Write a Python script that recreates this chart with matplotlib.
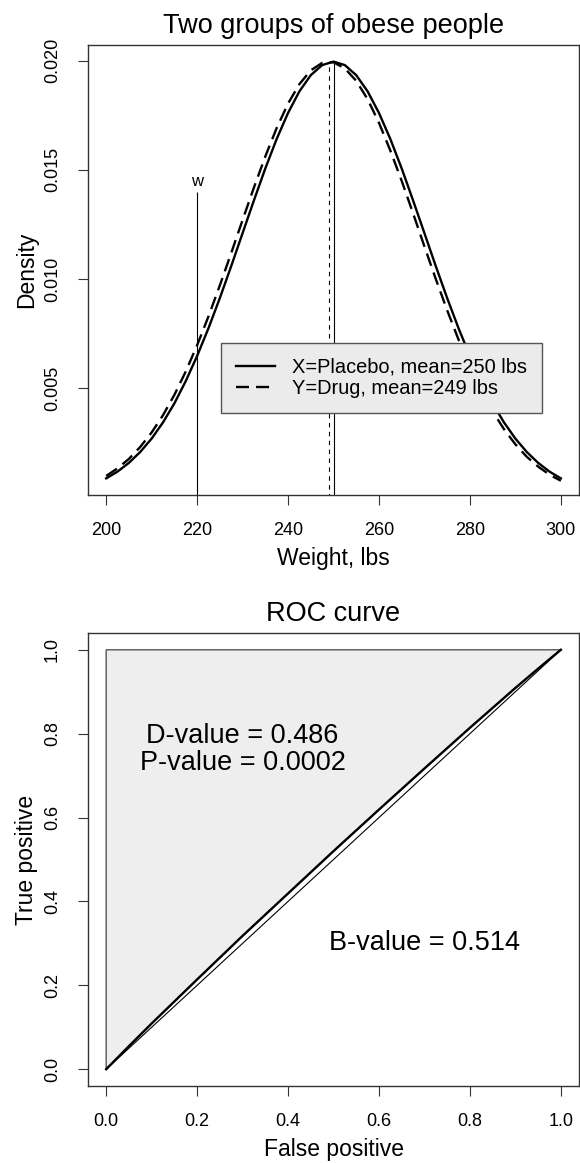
import matplotlib.pyplot as plt

plt.rcParams.update({'font.family': ['Liberation Sans', 'DejaVu Sans']})

# densities, every 2.5 lbs
weight = [200, 202.5, 205, 207.5, 210, 212.5, 215, 217.5, 220, 222.5, 225, 227.5,
          230, 232.5, 235, 237.5, 240, 242.5, 245, 247.5, 250, 252.5, 255, 257.5,
          260, 262.5, 265, 267.5, 270, 272.5, 275, 277.5, 280, 282.5, 285, 287.5,
          290, 292.5, 295, 297.5, 300]
placebo_dens = [0.00088, 0.00119, 0.00159, 0.00209, 0.00270, 0.00344, 0.00431, 0.00533,
                0.00648, 0.00775, 0.00913, 0.01059, 0.01210, 0.01360, 0.01506, 0.01641,
                0.01760, 0.01859, 0.01933, 0.01979, 0.01995, 0.01979, 0.01933, 0.01859,
                0.01760, 0.01641, 0.01506, 0.01360, 0.01210, 0.01059, 0.00913, 0.00775,
                0.00648, 0.00533, 0.00431, 0.00344, 0.00270, 0.00209, 0.00159, 0.00119,
                0.00088]
drug_dens = [0.00099, 0.00134, 0.00177, 0.00232, 0.00298, 0.00377, 0.00470, 0.00577,
             0.00697, 0.00829, 0.00971, 0.01119, 0.01270, 0.01419, 0.01561, 0.01691,
             0.01803, 0.01892, 0.01955, 0.01989, 0.01992, 0.01964, 0.01907, 0.01823,
             0.01715, 0.01588, 0.01449, 0.01301, 0.01149, 0.01000, 0.00857, 0.00723,
             0.00600, 0.00491, 0.00395, 0.00313, 0.00244, 0.00187, 0.00142, 0.00105,
             0.00077]
placebo_mean = 250
drug_mean = 249
w_cut = 220
w_height = 0.014
x_ticks = [200, 220, 240, 260, 280, 300]
y_ticks = [0.005, 0.010, 0.015, 0.020]
y_tick_labels = ['0.005', '0.010', '0.015', '0.020']

# ROC curve points
fpr = [0.0, 0.05, 0.1, 0.2, 0.3, 0.4, 0.5, 0.6, 0.7, 0.8, 0.9, 0.95, 1.0]
tpr = [0.0, 0.055, 0.109, 0.214, 0.318, 0.419, 0.520, 0.619, 0.717, 0.814, 0.909, 0.955, 1.0]
roc_ticks = [0.0, 0.2, 0.4, 0.6, 0.8, 1.0]
roc_tick_labels = ['0.0', '0.2', '0.4', '0.6', '0.8', '1.0']

fig = plt.figure(figsize=(5.8, 11.63), dpi=100)
ax1 = fig.add_axes([0.1517, 0.5744, 0.8466, 0.3869])
ax2 = fig.add_axes([0.1517, 0.0662, 0.8466, 0.3895])

spine_col = '#333333'
for ax in (ax1, ax2):
    for s in ax.spines.values():
        s.set_color(spine_col)
        s.set_linewidth(1.0)
    ax.tick_params(direction='out', length=7.5, width=0.8, color=spine_col,
                   labelsize=13, pad=12)

# top panel
ax1.plot(weight, placebo_dens, color='black', lw=1.7, label='X=Placebo, mean=250 lbs')
ax1.plot(weight, drug_dens, color='black', lw=1.7, linestyle=(0, (5.5, 3)),
         label='Y=Drug, mean=249 lbs')
ax1.vlines(placebo_mean, 0, max(placebo_dens), color='black', lw=0.8)
ax1.vlines(drug_mean, 0, max(drug_dens), color='black', lw=0.8, linestyle=(0, (4, 4)))
ax1.vlines(w_cut, 0, w_height, color='black', lw=0.8)
ax1.text(w_cut, w_height + 0.0001, 'w', ha='center', va='bottom', fontsize=12)

ax1.set_xlim(196, 304)
ax1.set_ylim(0.00012, 0.02071)
ax1.set_xticks(x_ticks)
ax1.set_yticks(y_ticks)
ax1.set_yticklabels(y_tick_labels, rotation=90, va='center')
ax1.set_title('Two groups of obese people', fontsize=19.5, pad=9)
ax1.set_xlabel('Weight, lbs', fontsize=16.5, labelpad=6)
ax1.set_ylabel('Density', fontsize=16.5, labelpad=4)
leg = ax1.legend(loc='upper left', bbox_to_anchor=(0.270, 0.338), fontsize=14.4,
                 fancybox=False, framealpha=1, facecolor='#EBEBEB', edgecolor='#555555',
                 handlelength=1.95, handletextpad=0.85, borderpad=0.75, labelspacing=0.1,
                 borderaxespad=0)
leg.get_frame().set_linewidth(1.0)

# bottom panel
ax2.fill(fpr + [0.0], tpr + [1.0], facecolor='#EEEEEE', edgecolor='#555555', lw=1.0)
ax2.plot([0, 1], [0, 1], color='black', lw=0.8)
ax2.plot(fpr, tpr, color='black', lw=1.7)
ax2.text(0.3, 0.795, 'D-value = 0.486', ha='center', va='center', fontsize=19.5)
ax2.text(0.3, 0.729, 'P-value = 0.0002', ha='center', va='center', fontsize=19.5)
ax2.text(0.7, 0.30, 'B-value = 0.514', ha='center', va='center', fontsize=19.5)

ax2.set_xlim(-0.04, 1.04)
ax2.set_ylim(-0.04, 1.04)
ax2.set_xticks(roc_ticks)
ax2.set_yticks(roc_ticks)
ax2.set_yticklabels(roc_tick_labels, rotation=90, va='center')
ax2.set_title('ROC curve', fontsize=19.5, pad=9)
ax2.set_xlabel('False positive', fontsize=16.5, labelpad=6)
ax2.set_ylabel('True positive', fontsize=16.5, labelpad=4)

plt.savefig('out.png', dpi=100)
